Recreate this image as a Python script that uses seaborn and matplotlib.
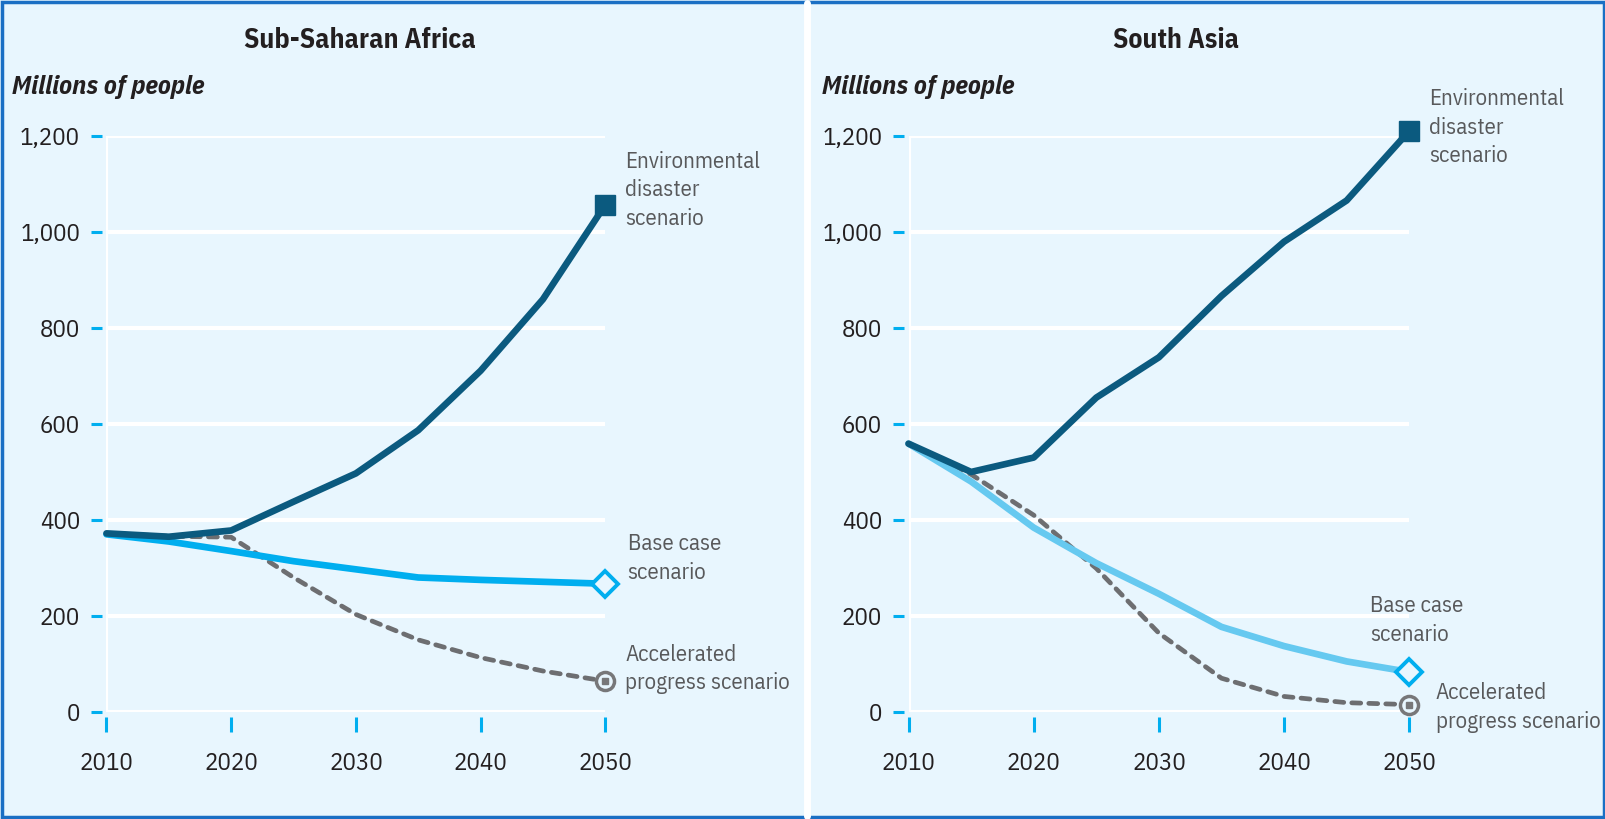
import numpy as np
import pandas as pd
import matplotlib.pyplot as plt
import seaborn as sns
from matplotlib.patches import Rectangle
from matplotlib.lines import Line2D

years = [2010, 2015, 2020, 2025, 2030, 2035, 2040, 2045, 2050]

# Sub-Saharan Africa, millions of people
ssa_env = [372, 365, 378, 438, 497, 587, 711, 860, 1057]
ssa_base = [370, 355, 335, 314, 297, 280, 275, 271, 267]
ssa_accel = [372, 366, 364, 280, 203, 150, 113, 85, 64]

# South Asia, millions of people
sa_env = [559, 500, 530, 655, 739, 867, 980, 1066, 1211]
sa_base = [559, 480, 384, 310, 246, 177, 137, 105, 83]
sa_accel = [559, 495, 410, 299, 164, 70, 32, 19, 15]

y_ticks = [0, 200, 400, 600, 800, 1000, 1200]
x_ticks = [2010, 2020, 2030, 2040, 2050]

BG = "#e8f6fe"
ENV = "#0b5a7f"
BASE_SSA = "#00aeef"
BASE_SA = "#66c9f0"
DIAMOND = "#00aeef"
ACCEL = "#6d6e71"
TXT = "#58595b"
DARK = "#231f20"
TICK = "#00aeef"

sns.set_theme(style="white")
plt.rcParams["font.family"] = ["IBM Plex Sans Condensed", "DejaVu Sans"]

fig = plt.figure(figsize=(16.06, 8.19), dpi=100)
fig.patch.set_facecolor(BG)


def draw_panel(ax, env, base, accel, base_color, labels):
    ax.set_facecolor("none")
    df = pd.DataFrame({"year": years, "env": env, "base": base, "accel": accel})

    for v in y_ticks:
        ax.axhline(v, color="white", lw=3, zorder=0)
    ax.axvline(2010, color="white", lw=3, zorder=0)

    sns.lineplot(data=df, x="year", y="accel", ax=ax, color=ACCEL, lw=3.4,
                 zorder=3, clip_on=False)
    ax.lines[-1].set_dashes([1.9, 1.7])
    ax.lines[-1].set_dash_capstyle("round")
    sns.lineplot(data=df, x="year", y="base", ax=ax, color=base_color, lw=4.8,
                 zorder=4, clip_on=False)
    sns.lineplot(data=df, x="year", y="env", ax=ax, color=ENV, lw=4.8,
                 zorder=5, clip_on=False)

    # end markers
    ax.plot(years[-1], env[-1], marker="s", ms=15, color=ENV, zorder=6, clip_on=False)
    ax.plot(years[-1], base[-1], marker="D", ms=13, mfc=BG, mec=DIAMOND, mew=2.8,
            zorder=6, clip_on=False)
    ax.plot(years[-1], accel[-1], marker="o", ms=13, mfc=BG, mec="#777779", mew=2.5,
            zorder=6, clip_on=False)
    ax.plot(years[-1], accel[-1], marker="s", ms=4, color="#777779", zorder=7, clip_on=False)

    for (x, y, s, ha) in labels:
        ax.text(x, y, s, ha=ha, va="top", fontsize=16.5, color=TXT, linespacing=1.38,
                clip_on=False)

    ax.set_xlim(2010, 2050)
    ax.set_ylim(0, 1200)
    ax.set_xticks(x_ticks)
    ax.set_yticks(y_ticks)
    ax.set_yticklabels([f"{v:,}" for v in y_ticks])
    ax.set_xlabel("")
    ax.set_ylabel("")
    for s in ax.spines.values():
        s.set_visible(False)
    ax.spines["left"].set_position(("outward", 3))
    ax.spines["bottom"].set_position(("outward", 4))
    ax.tick_params(axis="y", length=8, width=2.2, color=TICK, pad=8, labelsize=18,
                   labelcolor=DARK, left=True)
    ax.tick_params(axis="x", length=11, width=2.2, color=TICK, pad=14, labelsize=18,
                   labelcolor=DARK, bottom=True)


ax1 = fig.add_axes([0.0663, 0.1309, 0.3106, 0.7028])
ax2 = fig.add_axes([0.5657, 0.1309, 0.3118, 0.7028])

draw_panel(ax1, ssa_env, ssa_base, ssa_accel, BASE_SSA, [
    (2051.6, 1170, "Environmental\ndisaster\nscenario", "left"),
    (2051.8, 372, "Base case\nscenario", "left"),
    (2051.6, 142, "Accelerated\nprogress scenario", "left"),
])
draw_panel(ax2, sa_env, sa_base, sa_accel, BASE_SA, [
    (2051.6, 1300, "Environmental\ndisaster\nscenario", "left"),
    (2046.9, 243, "Base case\nscenario", "left"),
    (2052.1, 62, "Accelerated\nprogress scenario", "left"),
])

fig.text(360 / 1606, 1 - 41 / 819, "Sub-Saharan Africa", ha="center", va="center",
         fontsize=20, fontweight="bold", color=DARK)
fig.text(1176 / 1606, 1 - 41 / 819, "South Asia", ha="center", va="center",
         fontsize=20, fontweight="bold", color=DARK)
fig.text(12 / 1606, 1 - 87 / 819, "Millions of people", ha="left", va="center",
         fontsize=19, fontweight="bold", fontstyle="italic", color=DARK)
fig.text(822 / 1606, 1 - 87 / 819, "Millions of people", ha="left", va="center",
         fontsize=19, fontweight="bold", fontstyle="italic", color=DARK)

# white divider between panels and blue frame
fig.add_artist(Line2D([807 / 1606, 807 / 1606], [0.004, 0.996], color="white", lw=5,
                      transform=fig.transFigure))
fig.add_artist(Rectangle((0.001, 0.002), 0.998, 0.996, fill=False, ec="#1a6fc4", lw=2.5,
                         transform=fig.transFigure))

fig.savefig("out.png", dpi=100, facecolor=BG)
